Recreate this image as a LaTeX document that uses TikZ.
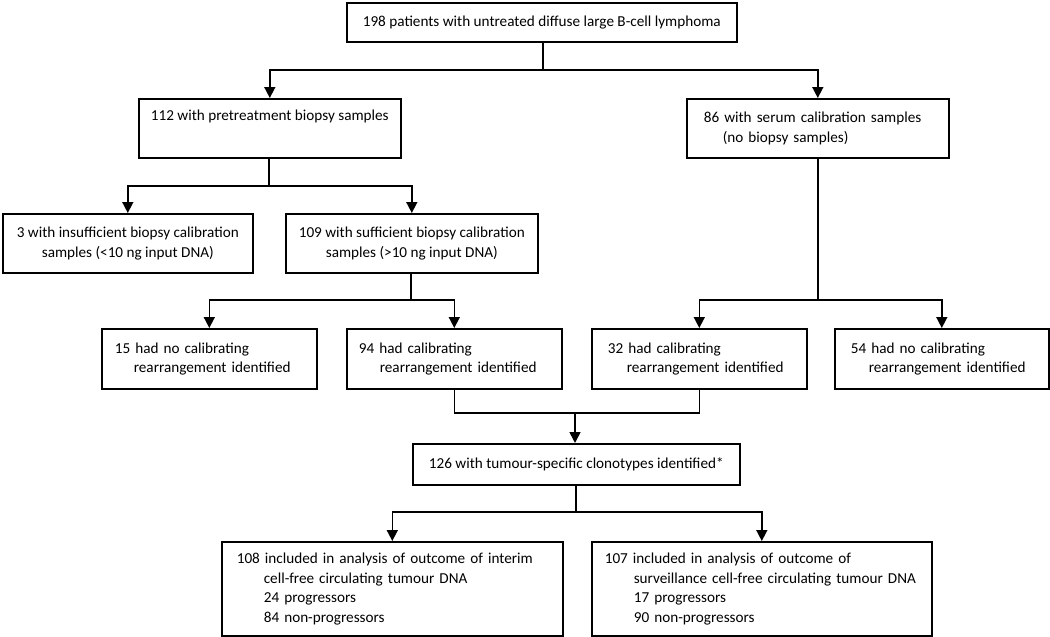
\documentclass[tikz,border=0pt]{standalone}
\usepackage{fontspec}
\setmainfont{Carlito}
\usetikzlibrary{arrows.meta}
\newcommand{\indt}[1][19pt]{\hspace*{#1}}

\begin{document}
\begin{tikzpicture}[x=1pt,y=-1pt,
  box/.style={draw,line width=1.6pt,anchor=north west,inner sep=0pt,
    font=\fontsize{15.2}{19.5}\selectfont},
  cbox/.style={box,align=center},
  lbox/.style={box,align=left},
  link/.style={line width=1.6pt},
  arr/.style={link,-{Triangle[width=11pt,length=11pt]}}]
\path[use as bounding box] (0,0) rectangle (1050,637);

\node[cbox,minimum width=390,minimum height=39] (top) at (346,2) {198 patients with untreated diffuse large B-cell lymphoma};

\node[cbox,minimum width=262,minimum height=59] (pre) at (138,98) {112 with pretreatment biopsy samples\\\strut};
\node[lbox,minimum width=262,minimum height=59,text width=228pt] (ser) at (686,98) {86 with serum calibration samples\\\indt(no biopsy samples)};

\node[cbox,minimum width=250,minimum height=59] (insuf) at (2,213) {3 with insufficient biopsy calibration\\samples (<10 ng input DNA)};
\node[cbox,minimum width=252,minimum height=59] (suf) at (285,213) {109 with sufficient biopsy calibration\\samples (>10 ng input DNA)};

\node[lbox,minimum width=215,minimum height=60,text width=189pt] (bnone) at (101,328) {15 had no calibrating\\\indt rearrangement identified};
\node[lbox,minimum width=215,minimum height=60,text width=191pt] (bcal) at (346,328) {94 had calibrating\\\indt[21pt]rearrangement identified};
\node[lbox,minimum width=215,minimum height=60,text width=183pt] (scal) at (591,328) {32 had calibrating\\\indt rearrangement identified};
\node[lbox,minimum width=214,minimum height=60,text width=182pt] (snone) at (834,328) {54 had no calibrating\\\indt[18pt]rearrangement identified};

\node[cbox,minimum width=327,minimum height=41] (clono) at (412,443) {126 with tumour-specific clonotypes identified*};

\node[lbox,minimum width=341,minimum height=94,text width=311pt] (interim) at (221,541) {108 included in analysis of outcome of interim\\\indt[27pt]cell-free circulating tumour DNA\\\indt[27pt]24 progressors\\\indt[27pt]84 non-progressors};
\node[lbox,minimum width=340,minimum height=94,text width=314pt] (surv) at (591,541) {107 included in analysis of outcome of\\\indt[29pt]surveillance cell-free circulating tumour DNA\\\indt[29pt]17 progressors\\\indt[29pt]90 non-progressors};

\coordinate (j1) at (543,70);
\coordinate (j2) at (269,186);
\coordinate (j3) at (411,300);
\coordinate (j4) at (818,300);
\coordinate (j5) at (575,413);
\coordinate (j6) at (576,512);

\draw[link] (top.south-|j1) -- (j1);
\draw[arr] (j1) -| (pre.north);
\draw[arr] (j1) -| (ser.north);
\draw[link] (pre.south-|j2) -- (j2);
\draw[arr] (j2) -| (insuf.north);
\draw[arr] (j2) -| (suf.north);
\draw[link] (suf.south-|j3) -- (j3);
\draw[arr] (j3) -| (bnone.north);
\draw[arr] (j3) -| (bcal.north);
\draw[link] (ser.south-|j4) -- (j4);
\draw[arr] (j4) -| (scal.north);
\draw[arr] (j4) -| (snone.north);
\draw[link] (bcal.south) |- (j5) -| (scal.south);
\draw[arr] (j5) -- (clono.north-|j5);
\draw[link] (clono.south-|j6) -- (j6);
\draw[arr] (j6) -| (interim.north);
\draw[arr] (j6) -| (surv.north);
\end{tikzpicture}
\end{document}
